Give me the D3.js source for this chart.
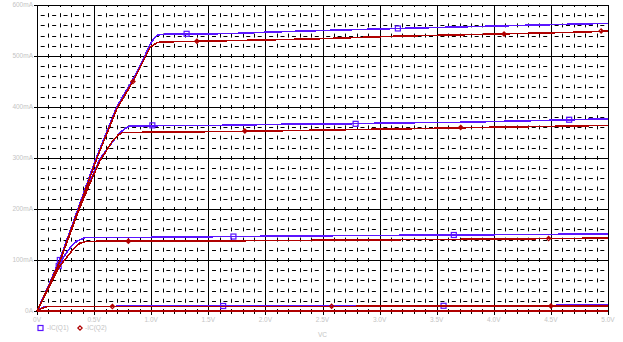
<!DOCTYPE html>
<html>
<head>
<meta charset="utf-8">
<script src="https://cdn.jsdelivr.net/npm/d3@7"></script>
<style>
  body { margin: 0; background: #fff; }
  svg { display: block; }
  text { font-family: "Liberation Sans", Arial, sans-serif; fill: #c4c4c4; }
</style>
</head>
<body>
<svg id="svg"></svg>
<script>
/**
 * DATA  (VC in volts, -IC in mA)
 * */
const xTicks = [0, 0.5, 1.0, 1.5, 2.0, 2.5, 3.0, 3.5, 4.0, 4.5, 5.0];
const xTickLabels = ["0V", "0.5V", "1.0V", "1.5V", "2.0V", "2.5V", "3.0V", "3.5V", "4.0V", "4.5V", "5.0V"];
const yTicks = [0, 100, 200, 300, 400, 500, 600];
const yTickLabels = ["0A", "100mA", "200mA", "300mA", "400mA", "500mA", "600mA"];
const seriesNames = ["-IC(Q1)", "-IC(Q2)"];

// -IC(Q1), one curve per base step
const q1Curves = [
  [[0, 0], [5.0, 0]],
  [[0, 0], [0.04, 6], [0.08, 9], [3.0, 10], [5.0, 11.5]],
  [[0, 0], [0.10, 47], [0.19, 88], [0.25, 112], [0.30, 127], [0.35, 137], [0.42, 144], [1.0, 144.5], [1.7, 146], [2.5, 147.5], [3.6, 149], [4.3, 150], [5.0, 151]],
  [[0, 0], [0.10, 48], [0.20, 100], [0.36, 197], [0.46, 252], [0.55, 298], [0.60, 313], [0.66, 331], [0.72, 348], [0.77, 358], [0.82, 363], [1.6, 364], [2.1, 366], [2.7, 367], [3.2, 369], [3.7, 370], [4.2, 372.5], [4.7, 375], [5.0, 377]],
  [[0, 0], [0.10, 49], [0.20, 101], [0.36, 201], [0.52, 301], [0.70, 401], [0.84, 454], [0.94, 498], [0.99, 523], [1.03, 536], [1.06, 541], [1.10, 542.5], [1.7, 544], [2.05, 547], [2.5, 550], [3.17, 554], [3.7, 557], [4.42, 561], [5.0, 564]]
];

// -IC(Q2)
const q2Curves = [
  [[0, 0], [5.0, 0]],
  [[0, 0], [0.05, 6], [0.09, 8.5], [2.0, 9], [5.0, 9.8]],
  [[0, 0], [0.10, 45], [0.20, 88], [0.27, 108], [0.32, 122], [0.376, 133], [0.43, 136.6], [1.0, 137], [2.0, 138], [3.0, 139.5], [4.0, 141], [5.0, 143]],
  [[0, 0], [0.10, 46], [0.20, 97], [0.36, 194], [0.46, 249], [0.55, 294], [0.61, 315], [0.66, 333], [0.71, 345], [0.75, 350], [1.2, 351], [1.7, 352], [2.3, 354], [2.85, 356], [3.3, 357.5], [3.9, 360], [4.5, 362], [5.0, 364]],
  [[0, 0], [0.10, 47], [0.20, 98], [0.36, 197], [0.52, 297], [0.70, 397], [0.84, 450], [0.94, 494], [0.99, 517], [1.05, 526], [1.08, 527.5], [1.9, 531], [2.5, 534], [3.17, 539], [3.6, 541], [4.0, 543], [4.4, 545], [4.8, 547], [5.0, 549]]
];

// symbol markers sitting on the traces
const q1Markers = [[0.20, 100], [0.19, 88], [1.01, 364], [1.31, 543.5], [1.63, 9.8], [1.72, 146], [2.79, 367], [3.16, 554], [3.56, 10.2], [3.65, 149], [4.66, 375]];
const q2Markers = [[0.66, 9], [0.80, 137], [0.84, 450], [1.40, 529], [1.82, 353], [2.58, 9.3], [3.71, 360], [4.09, 543], [4.48, 142], [4.50, 9.6], [4.94, 549]];

/**
 * CONSTANTS
 * */
const width = 623, height = 342;
const margin = { top: 5, right: 15, bottom: 31, left: 37 };
const blue = "#5a14ff", red = "#b00000";

const svg = d3.select("#svg").attr("width", width).attr("height", height);

const x = d3.scaleLinear().domain([0, 5]).range([margin.left, width - margin.right]);
const y = d3.scaleLinear().domain([0, 600]).range([height - margin.bottom, margin.top]);

const [x0, x1] = x.range();
const [y0, y1] = y.range();
const dx = x(0.1) - x(0);
const dy = y(0) - y(20);

// minor dashed grid
const minorX = d3.range(1, 50).map(i => i / 10).filter(v => Math.round(v * 10) % 5 !== 0);
const minorY = d3.range(20, 600, 20).filter(v => v % 100 !== 0);

svg.append("g")
  .selectAll("line")
  .data(minorY)
  .join("line")
  .attr("x1", x0).attr("x2", x1)
  .attr("y1", d => Math.round(y(d)) + 0.5).attr("y2", d => Math.round(y(d)) + 0.5)
  .attr("stroke", "#000")
  .attr("stroke-dasharray", `4,${dx - 4}`)
  .attr("stroke-dashoffset", -(dx - 4) / 2);

svg.append("g")
  .selectAll("line")
  .data(minorX)
  .join("line")
  .attr("x1", d => Math.round(x(d)) + 0.5).attr("x2", d => Math.round(x(d)) + 0.5)
  .attr("y1", y1).attr("y2", y0)
  .attr("stroke", "#000")
  .attr("stroke-dasharray", `4,${dy - 4}`)
  .attr("stroke-dashoffset", 2);

// major solid grid
svg.append("g")
  .selectAll("line")
  .data(yTicks)
  .join("line")
  .attr("x1", x0 - 3).attr("x2", x1)
  .attr("y1", d => Math.round(y(d)) + 0.5).attr("y2", d => Math.round(y(d)) + 0.5)
  .attr("stroke", "#000");

svg.append("g")
  .selectAll("line")
  .data(xTicks)
  .join("line")
  .attr("x1", d => Math.round(x(d)) + 0.5).attr("x2", d => Math.round(x(d)) + 0.5)
  .attr("y1", y1).attr("y2", y0 + 4)
  .attr("stroke", "#000");

// small ticks under the x axis
svg.append("g")
  .selectAll("line")
  .data(minorX)
  .join("line")
  .attr("x1", d => Math.round(x(d)) + 0.5).attr("x2", d => Math.round(x(d)) + 0.5)
  .attr("y1", y0).attr("y2", y0 + 3)
  .attr("stroke", "#000");

// axis labels
svg.append("g")
  .selectAll("text")
  .data(yTicks)
  .join("text")
  .attr("x", x0 - 4)
  .attr("y", d => y(d) + 2.3)
  .attr("text-anchor", "end")
  .attr("font-size", 6.5)
  .text((d, i) => yTickLabels[i]);

svg.append("g")
  .selectAll("text")
  .data(xTicks)
  .join("text")
  .attr("x", d => x(d))
  .attr("y", y0 + 10.5)
  .attr("text-anchor", "middle")
  .attr("font-size", 6.5)
  .text((d, i) => xTickLabels[i]);

svg.append("text")
  .attr("x", x(2.5))
  .attr("y", y0 + 25.5)
  .attr("text-anchor", "middle")
  .attr("font-size", 6.5)
  .text("VC");

// traces
const line = d3.line().x(d => x(d[0])).y(d => y(d[1]));

svg.append("g")
  .selectAll("path")
  .data(q1Curves)
  .join("path")
  .attr("d", line)
  .attr("fill", "none")
  .attr("stroke", blue)
  .attr("stroke-width", 1.6)
  .attr("shape-rendering", "crispEdges");

svg.append("g")
  .selectAll("rect")
  .data(q1Markers)
  .join("rect")
  .attr("x", d => x(d[0]) - 2.5)
  .attr("y", d => y(d[1]) - 2.5)
  .attr("width", 5).attr("height", 5)
  .attr("fill", "none")
  .attr("stroke", blue)
  .attr("stroke-width", 1.2);

svg.append("g")
  .selectAll("path")
  .data(q2Curves)
  .join("path")
  .attr("d", line)
  .attr("fill", "none")
  .attr("stroke", red)
  .attr("stroke-width", 1.6)
  .attr("shape-rendering", "crispEdges");

const diamond = d3.symbol().type(d3.symbolDiamond2).size(12);
svg.append("g")
  .selectAll("path")
  .data(q2Markers)
  .join("path")
  .attr("transform", d => `translate(${x(d[0])},${y(d[1])})`)
  .attr("d", diamond)
  .attr("fill", "none")
  .attr("stroke", red)
  .attr("stroke-width", 1.2);

// legend
const legend = svg.append("g").attr("transform", `translate(0,${y0 + 17})`);
legend.append("rect")
  .attr("x", 38).attr("y", -2.5).attr("width", 5).attr("height", 5)
  .attr("fill", "none").attr("stroke", blue).attr("stroke-width", 1.2);
legend.append("text").attr("x", 47).attr("y", 2.3).attr("font-size", 6.5).text(seriesNames[0]);
legend.append("path")
  .attr("transform", "translate(80,0)")
  .attr("d", diamond)
  .attr("fill", "none").attr("stroke", red).attr("stroke-width", 1.2);
legend.append("text").attr("x", 85).attr("y", 2.3).attr("font-size", 6.5).text(seriesNames[1]);
</script>
</body>
</html>
